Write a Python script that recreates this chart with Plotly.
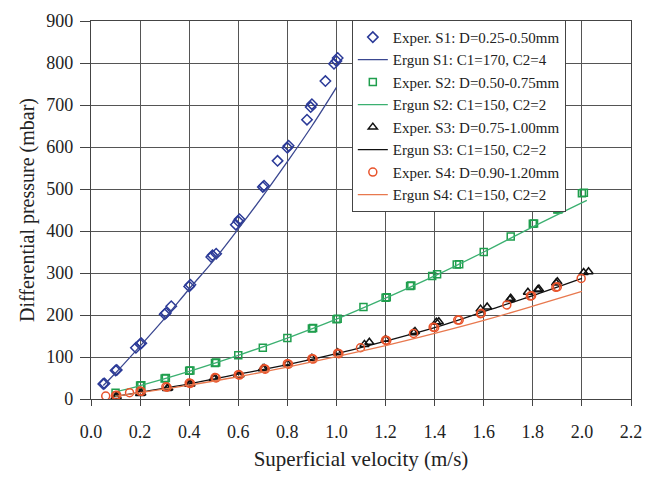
import plotly.graph_objects as go

# ---- data ----
s1_x = [0.05, 0.055, 0.10, 0.105, 0.183, 0.20, 0.205, 0.30, 0.305, 0.327, 0.40, 0.405, 0.49, 0.495, 0.51,
        0.59, 0.60, 0.605, 0.70, 0.705, 0.76, 0.80, 0.805, 0.88, 0.895, 0.90, 0.955, 0.99, 1.00, 1.005]
s1_y = [36, 37, 68, 69, 122, 131, 133, 202, 205, 221, 268, 272, 338, 342, 346,
        415, 423, 428, 505, 508, 567, 598, 603, 665, 695, 702, 757, 798, 805, 812]
e1_x = [0.05, 0.1, 0.2, 0.3, 0.4, 0.5, 0.6, 0.7, 0.8, 0.9, 1.0]
e1_y = [32, 62, 126, 192, 262, 330, 405, 483, 565, 650, 742]

s2_x = [0.10, 0.20, 0.205, 0.30, 0.305, 0.40, 0.405, 0.505, 0.51, 0.60, 0.70, 0.80, 0.90, 0.905, 1.00, 1.005,
        1.11, 1.20, 1.205, 1.30, 1.305, 1.39, 1.41, 1.49, 1.50, 1.60, 1.71, 1.80, 1.805, 1.90, 1.905, 2.00, 2.008]
s2_y = [15, 32, 33, 49, 50, 67, 68, 86, 87, 104, 122, 145, 168, 169, 190, 191,
        219, 241, 242, 269, 270, 293, 297, 320, 321, 350, 387, 417, 418, 451, 452, 490, 491]
e2_x = [0.1, 0.2, 0.4, 0.6, 0.8, 1.0, 1.2, 1.4, 1.6, 1.8, 2.02]
e2_y = [17, 32, 66, 104, 145, 190, 240, 293, 350, 410, 473]

s3_x = [0.10, 0.105, 0.20, 0.205, 0.31, 0.315, 0.40, 0.405, 0.50, 0.505, 0.60, 0.605, 0.70, 0.705, 0.80, 0.90,
        1.005, 1.114, 1.134, 1.20, 1.314, 1.32, 1.407, 1.417, 1.587, 1.614, 1.707, 1.71,
        1.78, 1.82, 1.825, 1.895, 1.90, 2.007, 2.027]
s3_y = [5, 6, 13, 14, 25, 26, 35, 36, 49, 50, 57, 58, 72, 73, 84, 97,
        110, 130, 135, 142, 158, 161, 183, 184, 214, 219, 237, 240,
        254, 260, 262, 276, 279, 301, 303]
e3_x = [0.1, 0.2, 0.4, 0.6, 0.8, 1.0, 1.2, 1.4, 1.6, 1.8, 2.0]
e3_y = [6, 16, 36, 59, 82, 108, 138, 170, 208, 246, 287]

s4_x = [0.06, 0.10, 0.105, 0.157, 0.20, 0.205, 0.305, 0.31, 0.40, 0.405, 0.505, 0.51, 0.60, 0.605, 0.705, 0.71,
        0.80, 0.805, 0.90, 0.905, 1.005, 1.01, 1.098, 1.20, 1.205, 1.314, 1.394, 1.40, 1.494, 1.50,
        1.587, 1.59, 1.694, 1.79, 1.795, 1.894, 1.90, 1.997]
s4_y = [7, 8.6, 9, 15, 19, 18, 29, 28, 38, 37, 51, 50, 58, 57, 72, 71,
        84, 83, 96, 95, 109, 108, 122, 140, 139, 156, 171, 170, 188, 188,
        203, 204, 224, 245, 246, 266, 267, 287]
e4_x = [0.1, 0.2, 0.4, 0.6, 0.8, 1.0, 1.2, 1.4, 1.6, 1.8, 2.0]
e4_y = [6, 15, 33, 53, 76, 101, 127, 156, 187, 221, 256]

names = ["Exper. S1: D=0.25-0.50mm", "Ergun S1: C1=170, C2=4",
         "Exper. S2: D=0.50-0.75mm", "Ergun S2: C1=150, C2=2",
         "Exper. S3: D=0.75-1.00mm", "Ergun S3: C1=150, C2=2",
         "Exper. S4: D=0.90-1.20mm", "Ergun S4: C1=150, C2=2"]

C1 = "#2b3a98"
C1L = "#3a4790"
C2 = "#1f9e4d"
C2L = "#3bb070"
C3 = "#111111"
C4 = "#e8532b"
C4L = "#e8784e"

FONT = "Liberation Serif"

fig = go.Figure()

def add_markers(x, y, name, sym, color, size):
    fig.add_trace(go.Scatter(x=x, y=y, mode="markers", name=name,
                             marker=dict(symbol=sym, size=size, color=color,
                                         line=dict(color=color, width=1.5))))

def add_line(x, y, name, color):
    fig.add_trace(go.Scatter(x=x, y=y, mode="lines", name=name,
                             line=dict(color=color, width=1.3, shape="spline")))

add_markers(s1_x, s1_y, names[0], "diamond-open", C1, 8)
add_line(e1_x, e1_y, names[1], C1L)
add_markers(s2_x, s2_y, names[2], "square-open", C2, 7)
add_line(e2_x, e2_y, names[3], C2L)
add_markers(s3_x, s3_y, names[4], "triangle-up-open", C3, 8)
add_line(e3_x, e3_y, names[5], C3)
add_markers(s4_x, s4_y, names[6], "circle-open", C4, 8)
add_line(e4_x, e4_y, names[7], C4L)

fig.update_layout(
    width=653, height=479,
    margin=dict(l=91, r=11, t=13, b=80),
    paper_bgcolor="white", plot_bgcolor="white",
    font=dict(family=FONT, size=18, color="#222"),
    showlegend=True,
    legend=dict(x=0.483, y=1.003, xanchor="left", yanchor="top",
                bgcolor="white", bordercolor="#444", borderwidth=1,
                font=dict(family=FONT, size=15, color="#222"),
                traceorder="normal", itemwidth=30),
    xaxis=dict(range=[0, 2.2], dtick=0.2, tick0=0, tickformat=".1f",
               showgrid=True, gridcolor="#555", gridwidth=1.3,
               showline=True, linecolor="#444", linewidth=1.3, mirror=True,
               ticks="outside", ticklen=6, tickcolor="#444", ticklabelstandoff=10,
               zeroline=False,
               title=dict(text="Superficial velocity (m/s)", font=dict(size=21), standoff=10)),
    yaxis=dict(range=[0, 900], dtick=100, tick0=0,
               showgrid=True, gridcolor="#555", gridwidth=1.3,
               showline=True, linecolor="#444", linewidth=1.3, mirror=True,
               ticks="outside", ticklen=10, tickcolor="#444", ticklabelstandoff=3,
               zeroline=False,
               title=dict(text="Differential pressure (mbar)", font=dict(size=20), standoff=6)),
)

fig.write_html("out.html")
